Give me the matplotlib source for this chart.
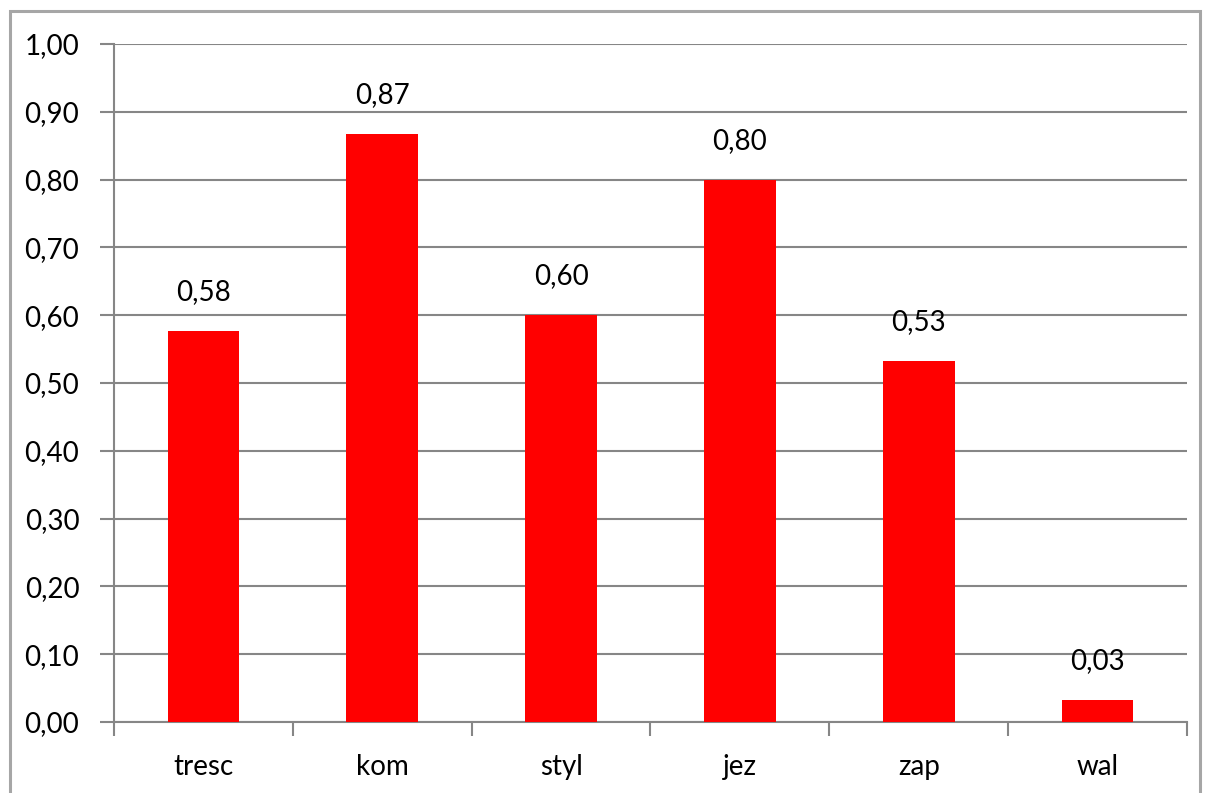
import matplotlib
matplotlib.use('Agg')
import matplotlib.pyplot as plt
from matplotlib.patches import Rectangle

categories = ['tresc', 'kom', 'styl', 'jez', 'zap', 'wal']
values = [0.577, 0.867, 0.600, 0.800, 0.533, 0.033]
labels = ['0,58', '0,87', '0,60', '0,80', '0,53', '0,03']

W, H = 1206, 793
plt.rcParams['font.family'] = ['Lato', 'DejaVu Sans']
fig = plt.figure(figsize=(W/100, H/100), dpi=100)
# outer chart border (bottom runs off the image)
fig.patches.append(Rectangle((10/W, -0.1), (1200-10)/W, (H-11)/H + 0.1, transform=fig.transFigure,
                             fill=False, edgecolor='#a6a6a6', lw=2.2))
ax = fig.add_axes([114/W, 1-722/H, (1187-114)/W, (722-44)/H])
grey = '#868686'
fs = 20
x = list(range(len(categories)))
ax.bar(x, values, width=0.4, color='#ff0000', zorder=3)
for xi, v, lab in zip(x, values, labels):
    ax.text(xi, v + 0.038, lab, ha='center', va='bottom', fontsize=fs, color='black')
ax.set_xlim(-0.5, len(categories) - 0.5)
ax.set_ylim(0, 1.0)
ax.set_yticks([i/10 for i in range(11)])
ax.set_yticklabels([f'{i/10:.2f}'.replace('.', ',') for i in range(11)], fontsize=fs)
ax.yaxis.grid(True, color=grey, lw=1.5, zorder=0)
ax.set_xticks(x)
ax.set_xticklabels(categories, fontsize=fs)
ax.set_xticks([i - 0.5 for i in range(len(categories) + 1)], minor=True)
ax.tick_params(axis='x', which='major', length=0, pad=23)
ax.tick_params(axis='x', which='minor', length=10, width=1.5, color=grey, direction='out')
ax.tick_params(axis='y', length=10, width=1.5, color=grey, pad=15)
for s in ['top', 'right']:
    ax.spines[s].set_visible(False)
for s in ['left', 'bottom']:
    ax.spines[s].set_color(grey)
    ax.spines[s].set_linewidth(1.5)
fig.savefig('out.png', dpi=100)
